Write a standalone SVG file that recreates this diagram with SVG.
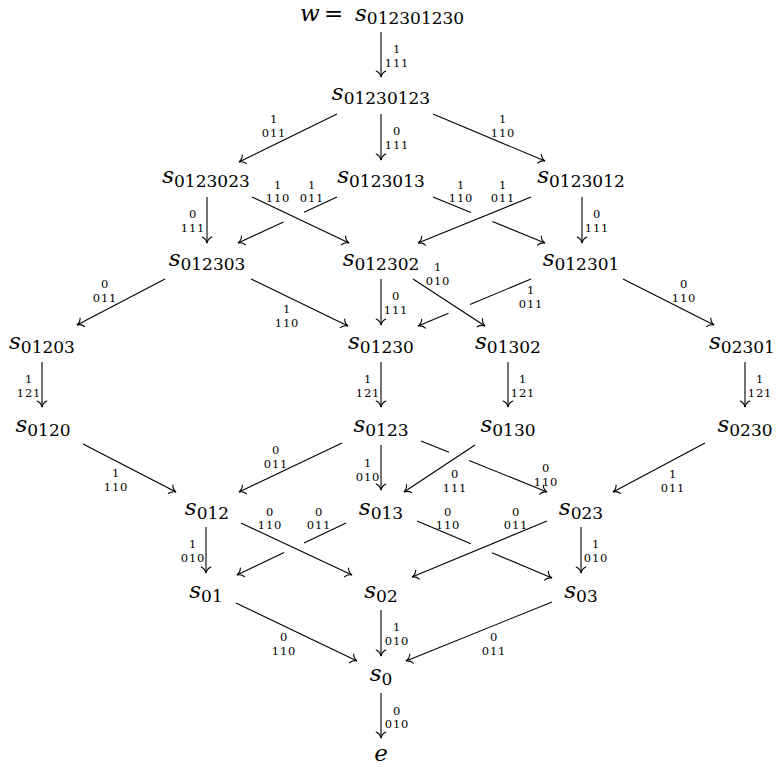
<svg xmlns="http://www.w3.org/2000/svg" width="776" height="767" viewBox="0 0 776 767">
<style>
.e{stroke:#000;stroke-width:1.1;fill:none}
.a{marker-end:url(#arr)}
.n{font-family:"DejaVu Serif",serif;font-size:23px;fill:#000;text-anchor:middle}
.v{font-style:italic}
.sub{font-size:17px;font-style:normal}
.l{font-family:"DejaVu Serif",serif;font-size:11.5px;letter-spacing:0.8px;text-anchor:middle;fill:#000}
</style>
<defs>
<marker id="arr" markerUnits="userSpaceOnUse" markerWidth="14" markerHeight="14" viewBox="-8 -7 10 14" refX="0" refY="0" orient="auto">
<path d="M-6,-4.8 C-4.8,-2 -2.5,-0.6 0,0 C-2.5,0.6 -4.8,2 -6,4.8" fill="none" stroke="#000" stroke-width="1.1" stroke-linecap="round"/>
</marker>
</defs>
<rect width="776" height="767" fill="#fff"/>
<g id="connectors">
<g id="e1"><path class="e a" d="M381,32 L381,77"/><text class="l" x="397" y="52.5">1</text><text class="l" x="397" y="66.5">111</text></g>
<g id="e2"><path class="e a" d="M337,114 L239,162"/><text class="l" x="274" y="122.5">1</text><text class="l" x="274" y="136.5">011</text></g>
<g id="e3"><path class="e a" d="M381,114 L381,160"/><text class="l" x="397" y="134.5">0</text><text class="l" x="397" y="148.5">111</text></g>
<g id="e4"><path class="e a" d="M433,114 L545,161"/><text class="l" x="503" y="122.5">1</text><text class="l" x="503" y="136.5">110</text></g>
<g id="e5"><path class="e a" d="M207,197 L207,243"/><text class="l" x="193" y="217.5">0</text><text class="l" x="193" y="231.5">111</text></g>
<g id="e6"><path class="e a" d="M252,197 L349,243"/><text class="l" x="278" y="188.5">1</text><text class="l" x="278" y="201.5">110</text></g>
<g id="e7"><path class="e" d="M337,197 L304,212.3"/><path class="e a" d="M283.5,221.9 L238,243"/><text class="l" x="312" y="188.5">1</text><text class="l" x="312" y="201.5">011</text></g>
<g id="e8"><path class="e" d="M433,197 L471,212.6"/><path class="e a" d="M492.4,221.4 L545,243"/><text class="l" x="461" y="188.5">1</text><text class="l" x="461" y="201.5">110</text></g>
<g id="e9"><path class="e a" d="M531,197 L418,243"/><text class="l" x="503" y="188.5">1</text><text class="l" x="503" y="201.5">011</text></g>
<g id="e10"><path class="e a" d="M582,197 L582,243"/><text class="l" x="597" y="217.5">0</text><text class="l" x="597" y="231.5">111</text></g>
<g id="e11"><path class="e a" d="M165,279 L77,325"/><text class="l" x="105" y="287.5">0</text><text class="l" x="105" y="301.5">011</text></g>
<g id="e12"><path class="e a" d="M251,279 L348,326"/><text class="l" x="287" y="312.5">1</text><text class="l" x="287" y="326.5">110</text></g>
<g id="e13"><path class="e a" d="M381,279 L381,325"/><text class="l" x="396" y="299.5">0</text><text class="l" x="396" y="313.5">111</text></g>
<g id="e14"><path class="e a" d="M413,279 L485,326"/><text class="l" x="438" y="270.5">1</text><text class="l" x="438" y="284.5">010</text></g>
<g id="e15"><path class="e" d="M531,279 L470,304.4"/><path class="e a" d="M448.5,313.3 L418,326"/><text class="l" x="531" y="293.5">1</text><text class="l" x="531" y="307.5">011</text></g>
<g id="e16"><path class="e a" d="M623,279 L714,325"/><text class="l" x="684" y="287.5">0</text><text class="l" x="684" y="301.5">110</text></g>
<g id="e17"><path class="e a" d="M42,362 L42,407"/><text class="l" x="29" y="382.5">1</text><text class="l" x="29" y="396.5">121</text></g>
<g id="e18"><path class="e a" d="M381,362 L381,407"/><text class="l" x="368" y="382.5">1</text><text class="l" x="368" y="396.5">121</text></g>
<g id="e19"><path class="e a" d="M508,362 L508,407"/><text class="l" x="523" y="382.5">1</text><text class="l" x="523" y="396.5">121</text></g>
<g id="e20"><path class="e a" d="M745,362 L745,407"/><text class="l" x="760" y="382.5">1</text><text class="l" x="760" y="396.5">121</text></g>
<g id="e21"><path class="e a" d="M83,444 L176,492"/><text class="l" x="116" y="476.5">1</text><text class="l" x="116" y="490.5">110</text></g>
<g id="e22"><path class="e a" d="M342,443 L239,492"/><text class="l" x="276" y="453.5">0</text><text class="l" x="276" y="467.5">011</text></g>
<g id="e23"><path class="e a" d="M381,445 L381,490"/><text class="l" x="368" y="466.5">1</text><text class="l" x="368" y="480.5">010</text></g>
<g id="e24"><path class="e" d="M421,441 L449,452.3"/><path class="e a" d="M469,460.4 L547,492"/><text class="l" x="546" y="471.5">0</text><text class="l" x="546" y="485.5">110</text></g>
<g id="e25"><path class="e a" d="M475,445 L404,492"/><text class="l" x="455" y="477.5">0</text><text class="l" x="455" y="491.5">111</text></g>
<g id="e26"><path class="e a" d="M705,443 L613,492"/><text class="l" x="673" y="477.5">1</text><text class="l" x="673" y="491.5">011</text></g>
<g id="e27"><path class="e a" d="M206,527 L206,573"/><text class="l" x="193" y="547.5">1</text><text class="l" x="193" y="561.5">010</text></g>
<g id="e28"><path class="e a" d="M241,523 L352,575"/><text class="l" x="270" y="515.5">0</text><text class="l" x="270" y="528.5">110</text></g>
<g id="e29"><path class="e" d="M346,523 L304,543"/><path class="e a" d="M284,552.6 L237,575"/><text class="l" x="319" y="515.5">0</text><text class="l" x="319" y="528.5">011</text></g>
<g id="e30"><path class="e" d="M417,521 L471,543.8"/><path class="e a" d="M492,552.7 L552,578"/><text class="l" x="448" y="515.5">0</text><text class="l" x="448" y="528.5">110</text></g>
<g id="e31"><path class="e a" d="M547,521 L412,577"/><text class="l" x="516" y="515.5">0</text><text class="l" x="516" y="528.5">011</text></g>
<g id="e32"><path class="e a" d="M581,527 L581,573"/><text class="l" x="596" y="547.5">1</text><text class="l" x="596" y="561.5">010</text></g>
<g id="e33"><path class="e a" d="M236,603 L357,661"/><text class="l" x="284" y="640.5">0</text><text class="l" x="284" y="654.5">110</text></g>
<g id="e34"><path class="e a" d="M381,610 L381,656"/><text class="l" x="397" y="630.5">1</text><text class="l" x="397" y="644.5">010</text></g>
<g id="e35"><path class="e a" d="M552,602 L406,661"/><text class="l" x="494" y="640.5">0</text><text class="l" x="494" y="654.5">011</text></g>
<g id="e36"><path class="e a" d="M381,693 L381,738"/><text class="l" x="397" y="714.5">0</text><text class="l" x="397" y="727.5">010</text></g>
</g>
<g id="nodes">
<g id="n0"><text class="n" x="300" y="20.5" style="text-anchor:start"><tspan class="v">w</tspan><tspan x="324">=</tspan><tspan x="355" class="v">s</tspan><tspan class="sub" dy="3.5">012301230</tspan></text></g>
<g id="n1"><text class="n" x="381" y="100"><tspan class="v">s</tspan><tspan class="sub" dy="3.5">01230123</tspan></text></g>
<g id="n2"><text class="n" x="206" y="183"><tspan class="v">s</tspan><tspan class="sub" dy="3.5">0123023</tspan></text></g>
<g id="n3"><text class="n" x="381" y="183"><tspan class="v">s</tspan><tspan class="sub" dy="3.5">0123013</tspan></text></g>
<g id="n4"><text class="n" x="581" y="183"><tspan class="v">s</tspan><tspan class="sub" dy="3.5">0123012</tspan></text></g>
<g id="n5"><text class="n" x="207" y="266"><tspan class="v">s</tspan><tspan class="sub" dy="3.5">012303</tspan></text></g>
<g id="n6"><text class="n" x="381" y="266"><tspan class="v">s</tspan><tspan class="sub" dy="3.5">012302</tspan></text></g>
<g id="n7"><text class="n" x="581" y="266"><tspan class="v">s</tspan><tspan class="sub" dy="3.5">012301</tspan></text></g>
<g id="n8"><text class="n" x="42" y="349"><tspan class="v">s</tspan><tspan class="sub" dy="3.5">01203</tspan></text></g>
<g id="n9"><text class="n" x="381" y="349"><tspan class="v">s</tspan><tspan class="sub" dy="3.5">01230</tspan></text></g>
<g id="n10"><text class="n" x="508" y="349"><tspan class="v">s</tspan><tspan class="sub" dy="3.5">01302</tspan></text></g>
<g id="n11"><text class="n" x="742" y="349"><tspan class="v">s</tspan><tspan class="sub" dy="3.5">02301</tspan></text></g>
<g id="n12"><text class="n" x="43" y="432"><tspan class="v">s</tspan><tspan class="sub" dy="3.5">0120</tspan></text></g>
<g id="n13"><text class="n" x="381" y="432"><tspan class="v">s</tspan><tspan class="sub" dy="3.5">0123</tspan></text></g>
<g id="n14"><text class="n" x="508" y="432"><tspan class="v">s</tspan><tspan class="sub" dy="3.5">0130</tspan></text></g>
<g id="n15"><text class="n" x="745" y="432"><tspan class="v">s</tspan><tspan class="sub" dy="3.5">0230</tspan></text></g>
<g id="n16"><text class="n" x="207" y="515"><tspan class="v">s</tspan><tspan class="sub" dy="3.5">012</tspan></text></g>
<g id="n17"><text class="n" x="381" y="515"><tspan class="v">s</tspan><tspan class="sub" dy="3.5">013</tspan></text></g>
<g id="n18"><text class="n" x="581" y="515"><tspan class="v">s</tspan><tspan class="sub" dy="3.5">023</tspan></text></g>
<g id="n19"><text class="n" x="206" y="598"><tspan class="v">s</tspan><tspan class="sub" dy="3.5">01</tspan></text></g>
<g id="n20"><text class="n" x="381" y="598"><tspan class="v">s</tspan><tspan class="sub" dy="3.5">02</tspan></text></g>
<g id="n21"><text class="n" x="581" y="598"><tspan class="v">s</tspan><tspan class="sub" dy="3.5">03</tspan></text></g>
<g id="n22"><text class="n" x="381" y="681"><tspan class="v">s</tspan><tspan class="sub" dy="3.5">0</tspan></text></g>
<g id="n23"><text class="n v" x="381" y="761">e</text></g>
</g>
</svg>
